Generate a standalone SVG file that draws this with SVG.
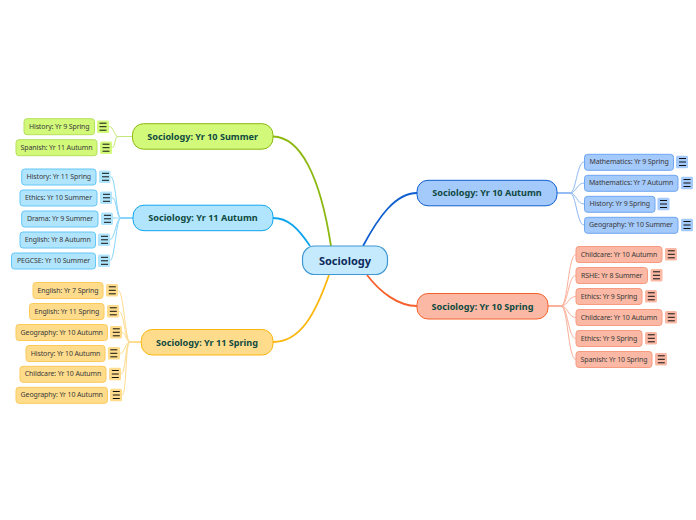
<svg xmlns="http://www.w3.org/2000/svg" width="696" height="520" viewBox="0 0 696 520">
<defs>
<style>
text{font-family:"Noto Sans","Open Sans","DejaVu Sans",sans-serif;text-anchor:middle;dominant-baseline:central;transform:translateY(-.4px)}
.s{font-size:7px;fill:#3a3a3a;letter-spacing:-.12px}
.m{font-size:9.1px;font-weight:700;fill:#0f4a3f}
.r{stroke-width:1}
.ico{stroke:none}
.bar{stroke:#111;stroke-width:1;fill:none}
.c{fill:none;stroke-width:1}
.b{fill:none;stroke-width:1.8}
.g .r,.g .ico{fill:#d2f97a}.g .r{stroke:#b5e05a}.g .mr{stroke:#8cb80f}
.u .r,.u .ico{fill:#b1e5fd}.u .r{stroke:#63c8f7}.u .mr{stroke:#0ea5ee}
.y .r,.y .ico{fill:#fedc8c}.y .r{stroke:#fdca5a}.y .mr{stroke:#fcb60c}
.l .r,.l .ico{fill:#a4c9fb}.l .r{stroke:#6ea6f2}.l .mr{stroke:#0f5fd0}
.o .r,.o .ico{fill:#fbb9a5}.o .r{stroke:#f79a80}.o .mr{stroke:#f6602d}
</style>
<g id="burger"><path class="bar" d="M-3.500 -3.500H3.500M-3.500 0H3.500M-3.500 3.500H3.500"/></g>
</defs>
<rect width="696" height="520" fill="#fff"/>
<g id="connectors">
<path class="b" stroke="#8cb80f" d="M273 136.500C300 137 320 175 331 246"/>
<path class="b" stroke="#0ea5ee" d="M273 218C288 218 298 228 310 246"/>
<path class="b" stroke="#fcb60c" d="M273 342C300 342 315 315 329 275"/>
<path class="b" stroke="#0f5fd0" d="M363 246C378 218 395 193 417 193"/>
<path class="b" stroke="#f6602d" d="M367 275C380 292 398 306 417 306"/>
<g class="c" stroke="#c4e77a">
<path d="M132 136.500H118C114 136.500 114 126.500 109 126.500"/><path d="M132 136.500H118C114 136.500 116 147.500 112 147.500"/>
</g>
<g class="c" stroke="#84d4fa">
<path d="M133 218H121C116 218 116 176.500 110.500 176.500"/><path d="M133 218H121C116 218 117 197.500 112 197.500"/><path d="M133 218H113"/><path d="M133 218H121C116 218 115 239.500 110 239.500"/><path d="M133 218H121C116 218 115 260.500 110 260.500"/>
</g>
<g class="c" stroke="#fedb8f">
<path d="M141 342H130C125 342 124 290.500 118 290.500"/><path d="M141 342H130C125 342 124 311.500 119 311.500"/><path d="M141 342H130C126 342 126 332.500 122 332.500"/><path d="M141 342H130C125 342 125 353.500 120 353.500"/><path d="M141 342H130C125 342 126 374 121 374"/><path d="M141 342H130C125 342 127 395 122 395"/>
</g>
<g class="c" stroke="#8db8f5">
<path d="M557 193H570C576 193 577 162 584 162"/><path d="M557 193H570C576 193 577 183 584 183"/><path d="M557 193H570C576 193 577 204 584 204"/><path d="M557 193H570C576 193 577 225 584 225"/>
</g>
<g class="c" stroke="#fbaf99">
<path d="M548 306H561C568 306 568 254.500 576 254.500"/><path d="M548 306H561C568 306 568 275.500 576 275.500"/><path d="M548 306H561C568 306 568 296.500 576 296.500"/><path d="M548 306H561C568 306 568 317.500 576 317.500"/><path d="M548 306H561C568 306 568 338.500 576 338.500"/><path d="M548 306H561C568 306 568 359.500 576 359.500"/>
</g>
</g>
<g id="central"><rect x="302.500" y="246" width="85" height="28.500" rx="12" fill="#c5eafd" stroke="#3d97d3" stroke-width="1.200"/><text x="345" y="260.500" style="font-size:11px;font-weight:700;fill:#0d2a5c">Sociology</text></g>

<g id="n-summer" class="g"><rect class="r mr" x="132.500" y="123.700" width="140.500" height="25.500" rx="11"/><text class="m" x="202.700" y="136.500">Sociology: Yr 10 Summer</text></g>
<g id="n1" class="g"><rect class="r" x="24" y="118.700" width="70.500" height="16" rx="3"/><text class="s" x="59.200" y="126.700">History: Yr 9 Spring</text><rect class="ico" x="97" y="120.500" width="12" height="12.500" rx="1.500"/><use href="#burger" x="103" y="126.700"/></g>
<g id="n2" class="g"><rect class="r" x="16" y="139.700" width="81" height="16" rx="3"/><text class="s" x="56.500" y="147.700">Spanish: Yr 11 Autumn</text><rect class="ico" x="100" y="141.500" width="12" height="12.500" rx="1.500"/><use href="#burger" x="106" y="147.700"/></g>

<g id="n-autumn11" class="u"><rect class="r mr" x="133" y="205.200" width="140" height="25.500" rx="11"/><text class="m" x="203" y="218">Sociology: Yr 11 Autumn</text></g>
<g id="n3" class="u"><rect class="r" x="21.700" y="169" width="74.300" height="16" rx="3"/><text class="s" x="58.800" y="176.800">History: Yr 11 Spring</text><rect class="ico" x="99" y="170.500" width="11.500" height="12.500" rx="1.500"/><use href="#burger" x="105.500" y="176.800"/></g>
<g id="n4" class="u"><rect class="r" x="20" y="190" width="77" height="16" rx="3"/><text class="s" x="58.500" y="197.800">Ethics: Yr 10 Summer</text><rect class="ico" x="100" y="191.500" width="12" height="12.500" rx="1.500"/><use href="#burger" x="106.500" y="197.800"/></g>
<g id="n5" class="u"><rect class="r" x="21.700" y="211" width="76.300" height="16" rx="3"/><text class="s" x="60" y="218.800">Drama: Yr 9 Summer</text><rect class="ico" x="101" y="212.500" width="12" height="12.500" rx="1.500"/><use href="#burger" x="107.500" y="218.800"/></g>
<g id="n6" class="u"><rect class="r" x="20" y="232" width="75.500" height="16" rx="3"/><text class="s" x="57.700" y="239.800">English: Yr 8 Autumn</text><rect class="ico" x="98" y="233.500" width="12" height="12.500" rx="1.500"/><use href="#burger" x="104.500" y="239.800"/></g>
<g id="n7" class="u"><rect class="r" x="11.500" y="253" width="84" height="16" rx="3"/><text class="s" x="53.500" y="260.800">PEGCSE: Yr 10 Summer</text><rect class="ico" x="98" y="254.500" width="12" height="12.500" rx="1.500"/><use href="#burger" x="104.500" y="260.800"/></g>

<g id="n-spring11" class="y"><rect class="r mr" x="141.300" y="329.500" width="131.700" height="25.500" rx="11"/><text class="m" x="207" y="342.500">Sociology: Yr 11 Spring</text></g>
<g id="n8" class="y"><rect class="r" x="33" y="282.500" width="70" height="16" rx="3"/><text class="s" x="68" y="290.500">English: Yr 7 Spring</text><rect class="ico" x="106" y="284" width="12" height="12.500" rx="1.500"/><use href="#burger" x="112.300" y="290.300"/></g>
<g id="n9" class="y"><rect class="r" x="29.500" y="303.500" width="74.500" height="16" rx="3"/><text class="s" x="66.800" y="311.500">English: Yr 11 Spring</text><rect class="ico" x="107" y="305" width="12" height="12.500" rx="1.500"/><use href="#burger" x="113.300" y="311.300"/></g>
<g id="n10" class="y"><rect class="r" x="16" y="324.500" width="91.500" height="16" rx="3"/><text class="s" x="61.700" y="332.500">Geography: Yr 10 Autumn</text><rect class="ico" x="110" y="326" width="12" height="12.500" rx="1.500"/><use href="#burger" x="116.300" y="332.300"/></g>
<g id="n11" class="y"><rect class="r" x="26" y="345.500" width="79" height="16" rx="3"/><text class="s" x="65.500" y="353.500">History: Yr 10 Autumn</text><rect class="ico" x="108" y="347" width="12" height="12.500" rx="1.500"/><use href="#burger" x="113.800" y="353.300"/></g>
<g id="n12" class="y"><rect class="r" x="20" y="366.300" width="86" height="16" rx="3"/><text class="s" x="63" y="374.300">Childcare: Yr 10 Autumn</text><rect class="ico" x="109" y="367.800" width="12" height="12.500" rx="1.500"/><use href="#burger" x="115.300" y="374"/></g>
<g id="n13" class="y"><rect class="r" x="16" y="387.300" width="91.500" height="16" rx="3"/><text class="s" x="61.700" y="395.300">Geography: Yr 10 Autumn</text><rect class="ico" x="110" y="388.800" width="12" height="12.500" rx="1.500"/><use href="#burger" x="116.300" y="395"/></g>

<g id="n-autumn10" class="l"><rect class="r mr" x="417" y="180.300" width="140" height="25.500" rx="11"/><text class="m" x="487" y="193.300">Sociology: Yr 10 Autumn</text></g>
<g id="n14" class="l"><rect class="r" x="584.500" y="154.300" width="89" height="16" rx="3"/><text class="s" x="629" y="162.300">Mathematics: Yr 9 Spring</text><rect class="ico" x="676" y="155.800" width="12" height="12.500" rx="1.500"/><use href="#burger" x="682.500" y="162"/></g>
<g id="n15" class="l"><rect class="r" x="584.500" y="175.300" width="93.500" height="16" rx="3"/><text class="s" x="631" y="183.300">Mathematics: Yr 7 Autumn</text><rect class="ico" x="681" y="176.800" width="12" height="12.500" rx="1.500"/><use href="#burger" x="687" y="183"/></g>
<g id="n16" class="l"><rect class="r" x="584.500" y="196.300" width="70.500" height="16" rx="3"/><text class="s" x="619.700" y="204.300">History: Yr 9 Spring</text><rect class="ico" x="657.500" y="197.800" width="12" height="12.500" rx="1.500"/><use href="#burger" x="663.500" y="204"/></g>
<g id="n17" class="l"><rect class="r" x="584.500" y="217.300" width="93.500" height="16" rx="3"/><text class="s" x="631" y="225.300">Geography: Yr 10 Summer</text><rect class="ico" x="681" y="218.800" width="12" height="12.500" rx="1.500"/><use href="#burger" x="687" y="225"/></g>

<g id="n-spring10" class="o"><rect class="r mr" x="417" y="293.500" width="131" height="25.500" rx="11"/><text class="m" x="482.500" y="306.500">Sociology: Yr 10 Spring</text></g>
<g id="n18" class="o"><rect class="r" x="576" y="246.500" width="86" height="16" rx="3"/><text class="s" x="619" y="254.500">Childcare: Yr 10 Autumn</text><rect class="ico" x="665" y="248" width="12" height="12.500" rx="1.500"/><use href="#burger" x="671.300" y="254.300"/></g>
<g id="n19" class="o"><rect class="r" x="576" y="267.500" width="71.500" height="16" rx="3"/><text class="s" x="611.700" y="275.500">RSHE: Yr 8 Summer</text><rect class="ico" x="650.500" y="269" width="12" height="12.500" rx="1.500"/><use href="#burger" x="656.500" y="275.300"/></g>
<g id="n20" class="o"><rect class="r" x="576" y="288.500" width="66" height="16" rx="3"/><text class="s" x="609" y="296.500">Ethics: Yr 9 Spring</text><rect class="ico" x="645" y="290" width="12" height="12.500" rx="1.500"/><use href="#burger" x="651.300" y="296.300"/></g>
<g id="n21" class="o"><rect class="r" x="576" y="309.500" width="86" height="16" rx="3"/><text class="s" x="619" y="317.500">Childcare: Yr 10 Autumn</text><rect class="ico" x="665" y="311" width="12" height="12.500" rx="1.500"/><use href="#burger" x="671.300" y="317.300"/></g>
<g id="n22" class="o"><rect class="r" x="576" y="330.500" width="66" height="16" rx="3"/><text class="s" x="609" y="338.500">Ethics: Yr 9 Spring</text><rect class="ico" x="645" y="332" width="12" height="12.500" rx="1.500"/><use href="#burger" x="651.300" y="338.300"/></g>
<g id="n23" class="o"><rect class="r" x="576" y="351.500" width="76" height="16" rx="3"/><text class="s" x="614" y="359.500">Spanish: Yr 10 Spring</text><rect class="ico" x="655" y="353" width="12" height="12.500" rx="1.500"/><use href="#burger" x="661.300" y="359.300"/></g>
</svg>
